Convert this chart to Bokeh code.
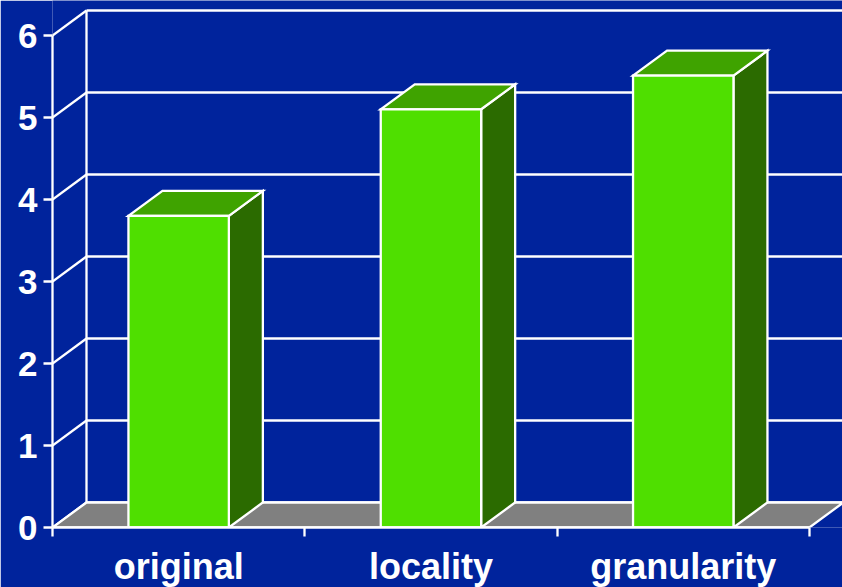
from bokeh.embed import file_html
from bokeh.models import FixedTicker, Range1d
from bokeh.plotting import figure
from bokeh.resources import INLINE

categories = ["original", "locality", "granularity"]
values = [3.80, 5.10, 5.51]
y_ticks = [0, 1, 2, 3, 4, 5, 6]

BG = "#00239c"
FRONT = "#4fdf00"
TOP = "#3fa300"
SIDE = "#2b6b00"
FLOOR = "#808080"
WHITE = "#ffffff"

# Oblique depth of the 3D box, in data units
UNIT_X = 252.3
UNIT_Y = 82
DEPTH_X = 34 / UNIT_X
DEPTH_Y = 25 / UNIT_Y
BAR_W = 0.398
N = len(categories)
X_END = 790 / UNIT_X
LW = 2.3

p = figure(
    width=842, height=587, frame_width=790, frame_height=527,
    output_backend="svg", toolbar_location=None,
    x_range=Range1d(0, X_END), y_range=Range1d(0, 527 / UNIT_Y),
    min_border_left=52, min_border_bottom=60, min_border_top=0, min_border_right=0,
    background_fill_color=BG, border_fill_color=BG, outline_line_color=None,
)
p.grid.visible = False

# Left wall, back wall and floor
for v in y_ticks:
    p.line([0, DEPTH_X], [v, v + DEPTH_Y], line_color=WHITE, line_width=LW)
    p.line([DEPTH_X, X_END], [v + DEPTH_Y, v + DEPTH_Y], line_color=WHITE, line_width=LW)
p.line([DEPTH_X, DEPTH_X], [DEPTH_Y, y_ticks[-1] + DEPTH_Y], line_color=WHITE, line_width=LW)
p.patch([0, N, N + DEPTH_X, DEPTH_X], [0, 0, DEPTH_Y, DEPTH_Y],
        fill_color=FLOOR, line_color=WHITE, line_width=LW)

# 3D bars: side face, top face, front face
for i, v in enumerate(values):
    l = i + 0.5 - BAR_W / 2
    r = i + 0.5 + BAR_W / 2
    p.patch([r, r + DEPTH_X, r + DEPTH_X, r], [0, DEPTH_Y, v + DEPTH_Y, v],
            fill_color=SIDE, line_color=WHITE, line_width=LW, line_join="miter")
    p.patch([l, r, r + DEPTH_X, l + DEPTH_X], [v, v, v + DEPTH_Y, v + DEPTH_Y],
            fill_color=TOP, line_color=WHITE, line_width=LW, line_join="miter")
    p.patch([l, r, r, l], [0, 0, v, v],
            fill_color=FRONT, line_color=WHITE, line_width=LW, line_join="miter")

# Axes
ya = p.yaxis[0]
ya.ticker = FixedTicker(ticks=y_ticks)
ya.bounds = (0, 6)
ya.axis_line_color = WHITE
ya.axis_line_width = LW
ya.major_tick_line_color = WHITE
ya.major_tick_line_width = LW
ya.major_tick_in = 0
ya.major_tick_out = 9
ya.minor_tick_line_color = None
ya.major_label_standoff = 6
ya.major_label_text_color = WHITE
ya.major_label_text_font = "Liberation Sans"
ya.major_label_text_font_style = "bold"
ya.major_label_text_font_size = "35px"

xa = p.xaxis[0]
centres = [i + 0.5 for i in range(N)]
xa.ticker = FixedTicker(ticks=centres, minor_ticks=list(range(N + 1)))
xa.major_label_overrides = {c: t for c, t in zip(centres, categories)}
xa.bounds = (0, N)
xa.axis_line_color = WHITE
xa.axis_line_width = LW
xa.major_tick_line_color = None
xa.minor_tick_line_color = WHITE
xa.minor_tick_line_width = LW
xa.minor_tick_in = 0
xa.minor_tick_out = 9
xa.major_tick_in = 0
xa.major_tick_out = 0
xa.major_label_standoff = 9
xa.major_label_text_color = WHITE
xa.major_label_text_font = "Liberation Sans"
xa.major_label_text_font_style = "bold"
xa.major_label_text_font_size = "36px"

open("out.html", "w").write(file_html(p, INLINE))
